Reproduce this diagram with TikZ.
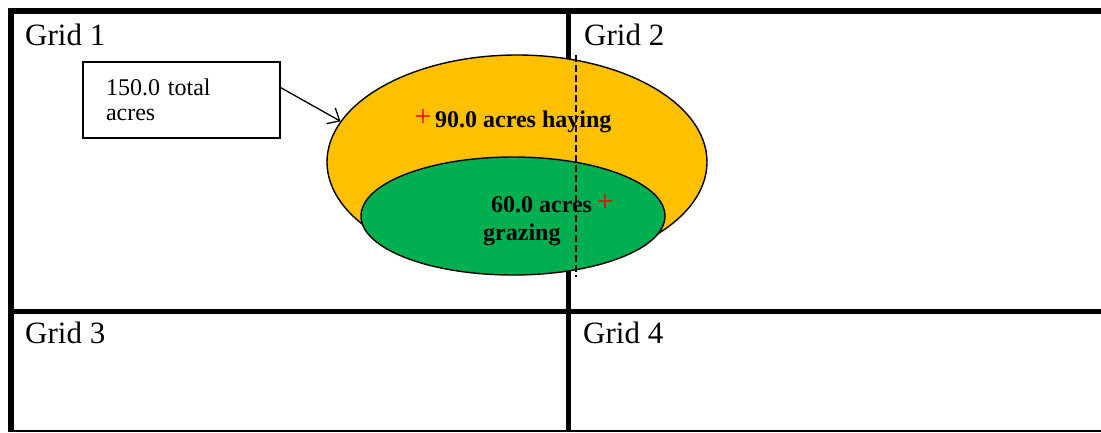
\documentclass[tikz,border=0pt]{standalone}
\usepackage{fontspec}
\setmainfont{Liberation Serif}
\usepackage{xcolor}
\usepackage{tikz}
\usetikzlibrary{calc,arrows.meta,shapes.geometric}
\definecolor{hay}{HTML}{FFC000}
\definecolor{graze}{HTML}{00B050}
\definecolor{mark}{HTML}{FF0000}
\tikzset{
  gridln/.style={draw=black, line width=5.5pt},
  thinln/.style={draw=black, line width=2pt},
  gridlab/.style={anchor=base west, inner sep=0pt, font=\fontsize{31}{37}\selectfont},
  arealab/.style={anchor=base west, inner sep=0pt, font=\fontsize{24}{28}\selectfont\bfseries},
  plus/.style={text=mark, inner sep=0pt, font=\fontsize{30}{34}\selectfont},
  infobox/.style={draw=black, line width=1.4pt, rectangle, align=left, text width=151pt,
    inner xsep=23pt, minimum height=76pt, font=\fontsize{24}{25}\selectfont},
  field/.style={ellipse, draw=black, line width=1.4pt, inner sep=0pt},
  dashln/.style={draw=black, dashed, dash pattern=on 7pt off 3pt, line width=1.6pt},
  ptr/.style={draw=black, line width=1.3pt, -{Straight Barb[length=10pt,width=18pt]}},
}
\begin{document}
\begin{tikzpicture}[x=1pt,y=-1pt]
  \useasboundingbox (0,0) rectangle (1101,432);
  % the four grids
  \draw[gridln] (8,11) -- (1101,11);
  \draw[gridln] (11,8) -- (11,432);
  \draw[gridln] (11,311.5) -- (1101,311.5);
  \draw[gridln] (568.5,11) -- (568.5,432);
  \draw[thinln] (11,431) -- (1101,431);
  \node[gridlab] (g1) at (25,45) {Grid 1};
  \node[gridlab] (g2) at (584,45) {Grid 2};
  \node[gridlab] (g3) at (25,343) {Grid 3};
  \node[gridlab] (g4) at (583,343) {Grid 4};
  % fields
  \node[field, fill=hay, minimum width=380pt, minimum height=214pt] (hayfld) at (517,162) {};
  \node[field, fill=graze, minimum width=304pt, minimum height=118pt] (grzfld) at (513,216) {};
  \draw[dashln] (576,55) -- (576,277);
  \node[plus] (p1) at (423,118) {+};
  \node[plus] (p2) at (605,203) {+};
  \node[arealab] (haytxt) at (435,127) {90.0 acres haying};
  \node[arealab] (grz1) at (491,212) {60.0 acres};
  \node[arealab] (grz2) at (483,240) {grazing};
  % total box
  \node[infobox] (tot) at (181.5,100) {150.0 total\\acres};
  \draw[ptr] ($(tot.north east)!0.34!(tot.south east)$) -- (hayfld.167);
\end{tikzpicture}
\end{document}
